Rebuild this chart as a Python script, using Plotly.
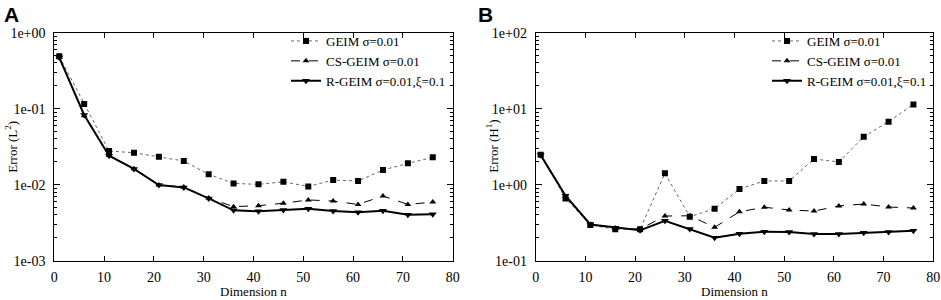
import plotly.graph_objects as go

W, H = 941, 300

dims = [1, 6, 11, 16, 21, 26, 31, 36, 41, 46, 51, 56, 61, 66, 71, 76]

# Panel A: L2 error
a_geim = [0.49, 0.115, 0.0277, 0.0264, 0.0233, 0.0205, 0.0137, 0.0104, 0.0101, 0.0109,
          0.0095, 0.0115, 0.0112, 0.0156, 0.0191, 0.0229]
a_cs = [0.47, 0.081, 0.0243, 0.0162, 0.0099, 0.0093, 0.0067, 0.00514, 0.0053, 0.0057,
        0.0063, 0.0061, 0.0055, 0.0071, 0.0055, 0.0059]
a_r = [0.47, 0.0826, 0.0241, 0.0161, 0.0099, 0.0092, 0.0066, 0.0046, 0.00447, 0.00465,
       0.00483, 0.0045, 0.00433, 0.00455, 0.00403, 0.0041]

# Panel B: H1 error
b_geim = [2.48, 0.66, 0.295, 0.259, 0.26, 1.41, 0.379, 0.483, 0.877, 1.12,
          1.12, 2.18, 1.99, 4.28, 6.75, 11.4]
b_cs = [2.45, 0.70, 0.30, 0.27, 0.26, 0.387, 0.39, 0.275, 0.44, 0.505,
        0.465, 0.45, 0.525, 0.557, 0.509, 0.493]
b_r = [2.45, 0.716, 0.30, 0.272, 0.251, 0.336, 0.261, 0.201, 0.226, 0.241,
       0.238, 0.224, 0.224, 0.233, 0.238, 0.248]

names = ["GEIM σ=0.01", "CS-GEIM σ=0.01", "R-GEIM σ=0.01,ξ=0.1"]
x_ticks = [0, 10, 20, 30, 40, 50, 60, 70, 80]
a_yticks = [1e-3, 1e-2, 1e-1, 1e0]
a_ytext = ["1e-03", "1e-02", "1e-01", "1e+00"]
b_yticks = [1e-1, 1e0, 1e1, 1e2]
b_ytext = ["1e-01", "1e+00", "1e+01", "1e+02"]

SERIF = "Liberation Serif, Times New Roman, serif"

styles = [
    dict(line=dict(color="#666", width=1, dash="dot"), marker=dict(symbol="square", size=6, color="black")),
    dict(line=dict(color="black", width=1, dash="dash"), marker=dict(symbol="triangle-up", size=6, color="black")),
    dict(line=dict(color="black", width=2), marker=dict(symbol="triangle-down", size=7, color="black")),
]

fig = go.Figure()
for ys, st, nm in zip([a_geim, a_cs, a_r], styles, names):
    fig.add_trace(go.Scatter(x=dims, y=ys, mode="lines+markers", name=nm, xaxis="x", yaxis="y",
                             legend="legend", **st))
for ys, st, nm in zip([b_geim, b_cs, b_r], styles, names):
    fig.add_trace(go.Scatter(x=dims, y=ys, mode="lines+markers", name=nm, xaxis="x2", yaxis="y2",
                             legend="legend2", **st))

ydom = [(H - 260.7) / H, (H - 32.7) / H]
xdomA = [54.3 / W, 452.7 / W]
xdomB = [535.7 / W, 933.3 / W]

def xax(dom, anchor):
    return dict(domain=dom, anchor=anchor, range=[0, 80], tickvals=x_ticks, automargin=False,
                ticks="inside", ticklen=5, tickcolor="black", mirror="allticks",
                showline=True, linecolor="black", linewidth=1, showgrid=False, zeroline=False,
                tickfont=dict(family=SERIF, size=14, color="black"), ticklabelstandoff=3)

def yax(rng, tv, tt, anchor):
    return dict(domain=ydom, anchor=anchor, type="log", range=rng, tickvals=tv, ticktext=tt,
                automargin=False,
                ticks="inside", ticklen=6, tickcolor="black", mirror="allticks",
                minor=dict(ticks="inside", ticklen=3, tickcolor="black", dtick="D1", showgrid=False),
                showline=True, linecolor="black", linewidth=1, showgrid=False, zeroline=False,
                tickfont=dict(family=SERIF, size=14, color="black"), ticklabelstandoff=5)

legend_common = dict(font=dict(family=SERIF, size=13, color="black"), bgcolor="rgba(0,0,0,0)",
                     borderwidth=0, xanchor="right", yanchor="top", y=(H - 26) / H,
                     itemclick=False, tracegroupgap=0)

fig.update_layout(
    width=W, height=H, margin=dict(l=0, r=0, t=0, b=0, autoexpand=False),
    paper_bgcolor="white", plot_bgcolor="white",
    xaxis=xax(xdomA, "y"), yaxis=yax([-3, 0], a_yticks, a_ytext, "x"),
    xaxis2=xax(xdomB, "y2"), yaxis2=yax([-1, 2], b_yticks, b_ytext, "x2"),
    legend=dict(x=451 / W, **legend_common),
    legend2=dict(x=932 / W, **legend_common),
    font=dict(family=SERIF, color="black"),
)

ann = [
    dict(text="<b>A</b>", x=2 / W, y=1 - 1 / H, xanchor="left", yanchor="top",
         font=dict(family="Liberation Sans, Arial, sans-serif", size=21, color="black")),
    dict(text="<b>B</b>", x=476 / W, y=1 - 1 / H, xanchor="left", yanchor="top",
         font=dict(family="Liberation Sans, Arial, sans-serif", size=21, color="black")),
    dict(text="Error (L<sup>2</sup>)", x=11 / W, y=(H - 146.7) / H, textangle=-90,
         xanchor="center", yanchor="middle", font=dict(family=SERIF, size=13, color="black")),
    dict(text="Error (H<sup>1</sup>)", x=492 / W, y=(H - 146.7) / H, textangle=-90,
         xanchor="center", yanchor="middle", font=dict(family=SERIF, size=13, color="black")),
    dict(text="Dimension n", x=253.5 / W, y=0, xanchor="center", yanchor="bottom", borderpad=0,
         font=dict(family=SERIF, size=13, color="black")),
    dict(text="Dimension n", x=734.5 / W, y=0, xanchor="center", yanchor="bottom", borderpad=0,
         font=dict(family=SERIF, size=13, color="black")),
]
for a in ann:
    a.update(xref="paper", yref="paper", showarrow=False)
fig.update_layout(annotations=ann)

fig.write_html("out.html", config={"displayModeBar": False},
               post_script="document.body.style.margin='0px';")
